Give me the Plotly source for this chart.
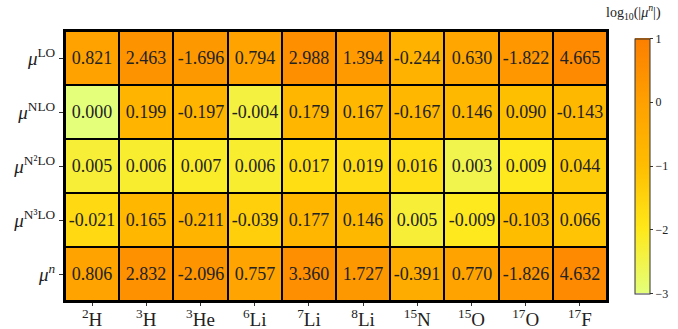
import numpy as np
import plotly.graph_objects as go

nuclei = ["<sup>2</sup>H", "<sup>3</sup>H", "<sup>3</sup>He", "<sup>6</sup>Li", "<sup>7</sup>Li",
          "<sup>8</sup>Li", "<sup>15</sup>N", "<sup>15</sup>O", "<sup>17</sup>O", "<sup>17</sup>F"]
orders = ["<i>μ</i><sup>LO</sup>", "<i>μ</i><sup>NLO</sup>", "<i>μ</i><sup>N²LO</sup>",
          "<i>μ</i><sup>N³LO</sup>", "<i>μ</i><sup><i>n</i></sup>"]

mu_LO = [0.821, 2.463, -1.696, 0.794, 2.988, 1.394, -0.244, 0.630, -1.822, 4.665]
mu_NLO = [0.000, 0.199, -0.197, -0.004, 0.179, 0.167, -0.167, 0.146, 0.090, -0.143]
mu_N2LO = [0.005, 0.006, 0.007, 0.006, 0.017, 0.019, 0.016, 0.003, 0.009, 0.044]
mu_N3LO = [-0.021, 0.165, -0.211, -0.039, 0.177, 0.146, 0.005, -0.009, -0.103, 0.066]
mu_n = [0.806, 2.832, -2.096, 0.757, 3.360, 1.727, -0.391, 0.770, -1.826, 4.632]

vals = np.array([mu_LO, mu_NLO, mu_N2LO, mu_N3LO, mu_n])
z = np.log10(np.clip(np.abs(vals), 1e-4, None))
text = [[f"{v:.3f}" for v in row] for row in vals]

wistia = [[0.0, "#e4ff7a"], [0.25, "#ffe81a"], [0.5, "#ffbd00"], [0.75, "#ffa000"], [1.0, "#fc7f00"]]

fig = go.Figure(go.Heatmap(
    z=z, x=nuclei, y=orders, text=text, texttemplate="%{text}",
    textfont=dict(family="Liberation Serif", size=18, color="#222222"),
    colorscale=wistia, zmin=-3, zmax=1, xgap=2, ygap=2,
    colorbar=dict(
        x=1.033, xanchor="left", y=0.5, yanchor="middle", len=1.02, lenmode="fraction",
        thickness=15, outlinecolor="#333333", outlinewidth=1,
        tickvals=[1, 0, -1, -2, -3], ticktext=["1", "0", "−1", "−2", "−3"],
        ticks="outside", ticklen=3, tickcolor="#333",
        tickfont=dict(family="Liberation Serif", size=12, color="#222"),
    ),
))

fig.add_annotation(
    text="log<sub>10</sub>(|<i>μ</i><sup><i>n</i></sup>|)", xref="paper", yref="paper",
    x=1.048, y=1.072, xanchor="center", yanchor="middle", showarrow=False,
    font=dict(family="Liberation Serif", size=14, color="#222"),
)

fig.update_xaxes(showline=True, linecolor="black", linewidth=2, mirror=True, showgrid=False,
                 ticks="outside", ticklen=3, tickcolor="#333", ticklabelstandoff=-3,
                 tickfont=dict(family="Liberation Serif", size=19, color="#222"))
fig.update_yaxes(autorange="reversed", showline=True, linecolor="black", linewidth=2, mirror=True,
                 showgrid=False, ticks="outside", ticklen=4, tickcolor="#333",
                 tickfont=dict(family="Liberation Serif", size=19, color="#222"))

fig.update_layout(
    width=678, height=329,
    margin=dict(l=65, r=71, t=31, b=28, autoexpand=False),
    plot_bgcolor="black", paper_bgcolor="white",
)

fig.write_html("out.html", config={"displayModeBar": False},
               post_script="document.body.style.margin='0';document.body.style.overflow='hidden';")
